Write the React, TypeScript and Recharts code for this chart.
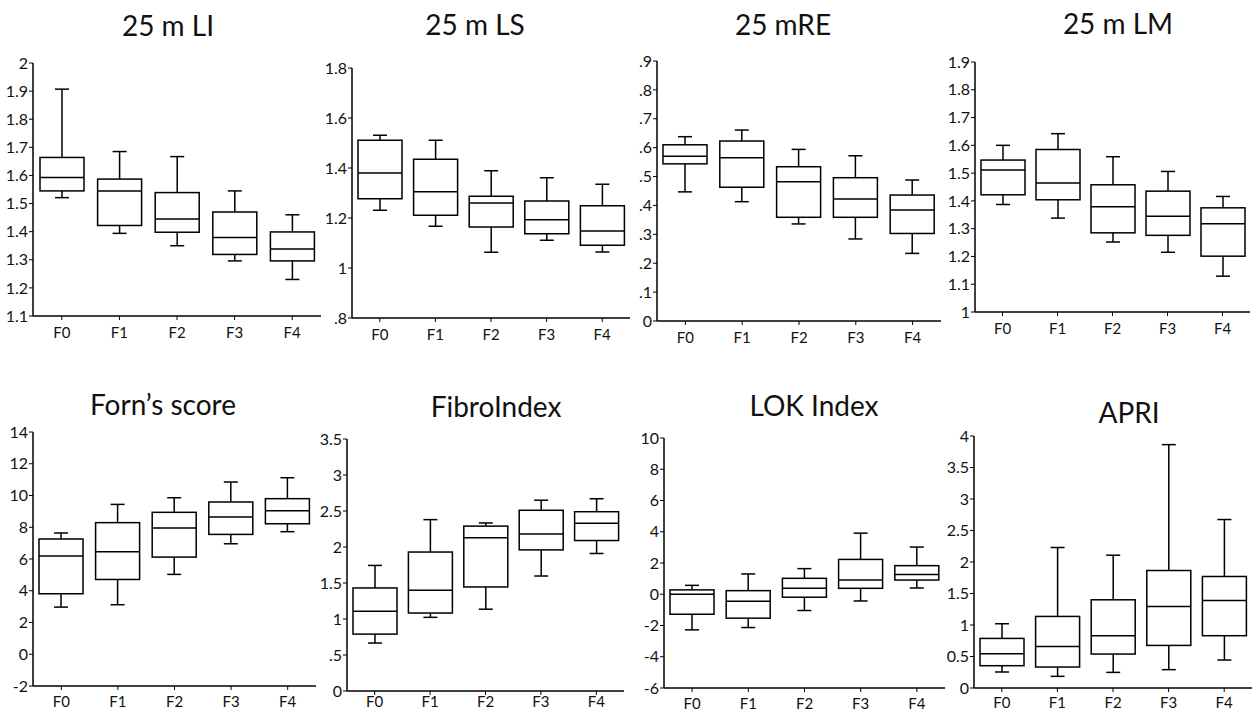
import React from 'react';
import { Bar, BarChart, XAxis, YAxis } from 'recharts';

// stage categories
const stages = ['F0', 'F1', 'F2', 'F3', 'F4'];

// each row: [min, q1, median, q3, max]
const li25 = [
  [1.521, 1.545, 1.593, 1.664, 1.907],
  [1.394, 1.422, 1.545, 1.587, 1.685],
  [1.35, 1.398, 1.445, 1.539, 1.667],
  [1.296, 1.319, 1.379, 1.47, 1.545],
  [1.23, 1.296, 1.338, 1.399, 1.46]
];
const ls25 = [
  [1.231, 1.277, 1.38, 1.511, 1.531],
  [1.167, 1.211, 1.305, 1.435, 1.511],
  [1.063, 1.164, 1.26, 1.287, 1.389],
  [1.111, 1.137, 1.193, 1.268, 1.361],
  [1.064, 1.091, 1.148, 1.249, 1.335]
];
const re25 = [
  [0.447, 0.544, 0.57, 0.61, 0.638],
  [0.413, 0.463, 0.565, 0.623, 0.661],
  [0.336, 0.359, 0.482, 0.534, 0.594],
  [0.284, 0.359, 0.422, 0.496, 0.572],
  [0.234, 0.303, 0.384, 0.436, 0.488]
];
const lm25 = [
  [1.387, 1.422, 1.511, 1.547, 1.6],
  [1.338, 1.404, 1.464, 1.585, 1.642],
  [1.252, 1.285, 1.379, 1.458, 1.559],
  [1.215, 1.276, 1.345, 1.435, 1.506],
  [1.129, 1.201, 1.318, 1.375, 1.416]
];
const forns = [
  [2.97, 3.81, 6.19, 7.26, 7.64],
  [3.12, 4.71, 6.46, 8.29, 9.44],
  [5.03, 6.12, 7.95, 8.94, 9.86],
  [6.96, 7.55, 8.64, 9.59, 10.85],
  [7.72, 8.22, 9.04, 9.8, 11.12]
];
const fibro = [
  [0.666, 0.79, 1.108, 1.431, 1.744],
  [1.023, 1.083, 1.399, 1.93, 2.38],
  [1.136, 1.445, 2.13, 2.29, 2.334],
  [1.597, 1.96, 2.18, 2.51, 2.65],
  [1.91, 2.09, 2.33, 2.49, 2.67]
];
const lok = [
  [-2.28, -1.28, 0.0, 0.28, 0.57],
  [-2.13, -1.53, -0.45, 0.23, 1.3],
  [-1.04, -0.19, 0.38, 1.02, 1.64],
  [-0.43, 0.38, 0.91, 2.23, 3.91],
  [0.4, 0.91, 1.26, 1.83, 3.02]
];
const apri = [
  [0.254, 0.354, 0.544, 0.787, 1.02],
  [0.185, 0.333, 0.66, 1.136, 2.23],
  [0.248, 0.539, 0.83, 1.4, 2.108],
  [0.291, 0.676, 1.295, 1.865, 3.863],
  [0.444, 0.83, 1.39, 1.77, 2.674]
];

// y tick values and their printed labels
const liTicks = [1.1, 1.2, 1.3, 1.4, 1.5, 1.6, 1.7, 1.8, 1.9, 2];
const liLabels = ['1.1', '1.2', '1.3', '1.4', '1.5', '1.6', '1.7', '1.8', '1.9', '2'];
const lsTicks = [0.8, 1, 1.2, 1.4, 1.6, 1.8];
const lsLabels = ['.8', '1', '1.2', '1.4', '1.6', '1.8'];
const reTicks = [0, 0.1, 0.2, 0.3, 0.4, 0.5, 0.6, 0.7, 0.8, 0.9];
const reLabels = ['0', '.1', '.2', '.3', '.4', '.5', '.6', '.7', '.8', '.9'];
const lmTicks = [1, 1.1, 1.2, 1.3, 1.4, 1.5, 1.6, 1.7, 1.8, 1.9];
const lmLabels = ['1', '1.1', '1.2', '1.3', '1.4', '1.5', '1.6', '1.7', '1.8', '1.9'];
const fornsTicks = [-2, 0, 2, 4, 6, 8, 10, 12, 14];
const fornsLabels = ['-2', '0', '2', '4', '6', '8', '10', '12', '14'];
const fibroTicks = [0, 0.5, 1, 1.5, 2, 2.5, 3, 3.5];
const fibroLabels = ['0', '.5', '1', '1.5', '2', '2.5', '3', '3.5'];
const lokTicks = [-6, -4, -2, 0, 2, 4, 6, 8, 10];
const lokLabels = ['-6', '-4', '-2', '0', '2', '4', '6', '8', '10'];
const apriTicks = [0, 0.5, 1, 1.5, 2, 2.5, 3, 3.5, 4];
const apriLabels = ['0', '0.5', '1', '1.5', '2', '2.5', '3', '3.5', '4'];

const FONT = 'Lato, "Open Sans", sans-serif';

// layout: plot = [left, top, width, height], title = [centerX, centerY], xm = x label gap
const panels = [
  { title: '25 m LI', stats: li25, ticks: liTicks, labels: liLabels, plot: [33, 63, 288, 253], tpos: [168, 25], xm: 7 },
  { title: '25 m LS', stats: ls25, ticks: lsTicks, labels: lsLabels, plot: [352, 68, 278, 250], tpos: [475, 24], xm: 7 },
  { title: '25 mRE', stats: re25, ticks: reTicks, labels: reLabels, plot: [657, 61, 284, 260], tpos: [783, 24], xm: 7 },
  { title: '25 m LM', stats: lm25, ticks: lmTicks, labels: lmLabels, plot: [975, 62, 275, 250], tpos: [1118, 23], xm: 7 },
  { title: 'Forn\u2019s score', stats: forns, ticks: fornsTicks, labels: fornsLabels, plot: [33, 432, 283, 254], tpos: [163, 404], xm: 6 },
  { title: 'FibroIndex', stats: fibro, ticks: fibroTicks, labels: fibroLabels, plot: [347, 439, 277, 252], tpos: [496, 406], xm: 1 },
  { title: 'LOK Index', stats: lok, ticks: lokTicks, labels: lokLabels, plot: [664, 438, 281, 250], tpos: [814, 405], xm: 6 },
  { title: 'APRI', stats: apri, ticks: apriTicks, labels: apriLabels, plot: [974, 436, 278, 252], tpos: [1129, 412], xm: 5 }
];

const AXIS_W = 40;
const TOP_PAD = 10;
const XAXIS_H = 26;

// draws box + whiskers inside the [min, max] range bar
const BoxShape = (props: any) => {
  const { x, y, width, height } = props;
  const p = props.payload || props;
  const span = p.max - p.min;
  const toY = (v: number) => y + ((p.max - v) / span) * height;
  const cx = x + width / 2;
  const cap = 7;
  const yq1 = toY(p.q1);
  const yq3 = toY(p.q3);
  const ymed = toY(p.median);
  const ymin = toY(p.min);
  const ymax = toY(p.max);
  return (
    <g stroke="#000" strokeWidth={1.5} fill="none">
      <line x1={cx} x2={cx} y1={ymax} y2={yq3} />
      <line x1={cx} x2={cx} y1={yq1} y2={ymin} />
      <line x1={cx - cap} x2={cx + cap} y1={ymax} y2={ymax} />
      <line x1={cx - cap} x2={cx + cap} y1={ymin} y2={ymin} />
      <rect x={x} y={yq3} width={width} height={yq1 - yq3} fill="#fff" />
      <line x1={x} x2={x + width} y1={ymed} y2={ymed} />
    </g>
  );
};

const Panel = ({ cfg }: { cfg: typeof panels[number] }) => {
  const [left, top, w, h] = cfg.plot;
  const data = stages.map((name, i) => {
    const [min, q1, median, q3, max] = cfg.stats[i];
    return { name, range: [min, max], min, q1, median, q3, max };
  });
  const fmt = (v: number) => {
    const idx = cfg.ticks.findIndex((t) => Math.abs(t - v) < 1e-9);
    return idx >= 0 ? cfg.labels[idx] : '';
  };
  return (
    <>
      <div
        style={{
          position: 'absolute',
          left: cfg.tpos[0],
          top: cfg.tpos[1],
          transform: 'translate(-50%, -50%)',
          fontFamily: FONT,
          fontSize: 28,
          lineHeight: 1,
          whiteSpace: 'nowrap',
          color: '#111'
        }}
      >
        {cfg.title}
      </div>
      <div style={{ position: 'absolute', left: left - AXIS_W, top: top - TOP_PAD }}>
        <BarChart
          width={AXIS_W + w + 5}
          height={TOP_PAD + h + XAXIS_H}
          data={data}
          margin={{ top: TOP_PAD, right: 5, left: 0, bottom: 0 }}
        >
          <XAxis
            dataKey="name"
            height={XAXIS_H}
            tick={{ fontSize: 15, fill: '#111', fontFamily: FONT }}
            tickSize={4}
            tickMargin={cfg.xm}
            axisLine={{ stroke: '#000', strokeWidth: 1.5 }}
            tickLine={{ stroke: '#000' }}
            interval={0}
          />
          <YAxis
            type="number"
            width={AXIS_W}
            domain={[cfg.ticks[0], cfg.ticks[cfg.ticks.length - 1]]}
            ticks={cfg.ticks}
            tickFormatter={fmt}
            allowDataOverflow
            interval={0}
            tick={{ fontSize: 16, fill: '#111', fontFamily: FONT }}
            tickSize={4}
            tickMargin={1}
            axisLine={{ stroke: '#000', strokeWidth: 1.5 }}
            tickLine={{ stroke: '#000' }}
          />
          <Bar dataKey="range" barSize={44} shape={<BoxShape />} isAnimationActive={false} />
        </BarChart>
      </div>
    </>
  );
};

export default function App() {
  return (
    <div style={{ position: 'absolute', left: 0, top: 0, width: 1257, height: 714, background: '#fff', overflow: 'hidden' }}>
      {panels.map((cfg) => (
        <Panel key={cfg.title} cfg={cfg} />
      ))}
    </div>
  );
}
